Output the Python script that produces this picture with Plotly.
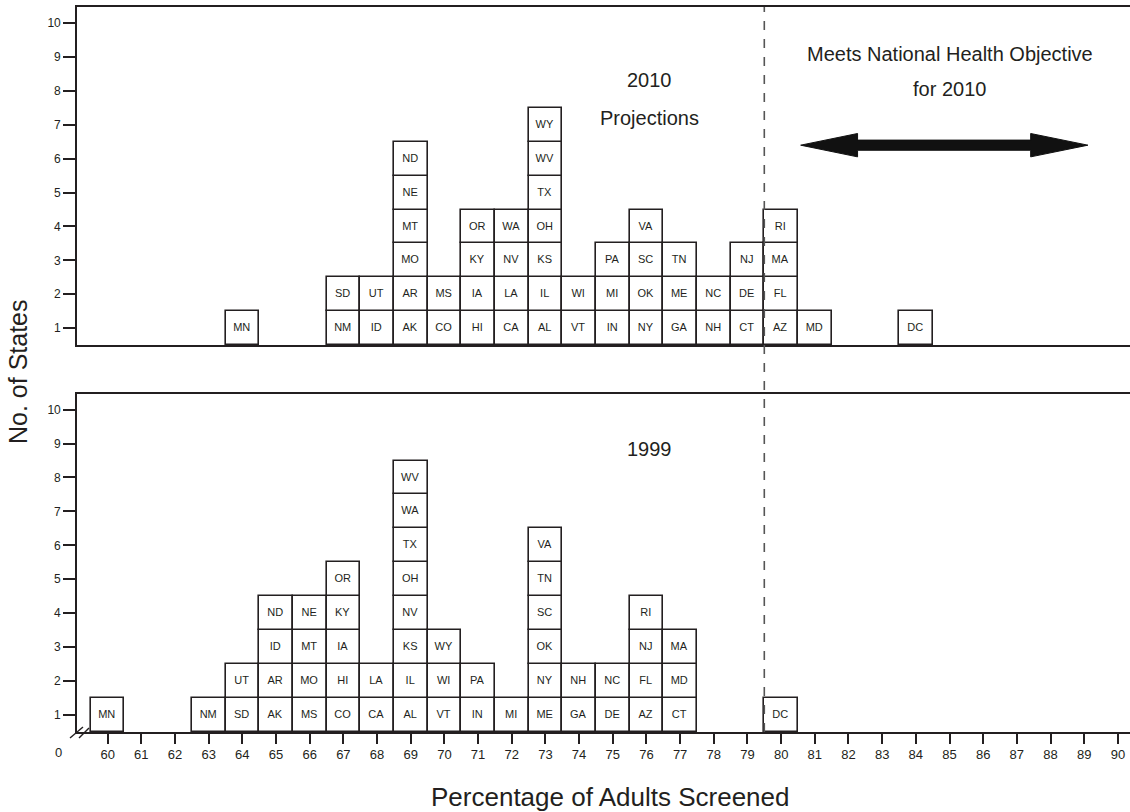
import plotly.graph_objects as go
from collections import defaultdict

# ---------------- data ----------------
states_2010 = ["MN",
               "NM", "SD",
               "ID", "UT",
               "AK", "AR", "MO", "MT", "NE", "ND",
               "CO", "MS",
               "HI", "IA", "KY", "OR",
               "CA", "LA", "NV", "WA",
               "AL", "IL", "KS", "OH", "TX", "WV", "WY",
               "VT", "WI",
               "IN", "MI", "PA",
               "NY", "OK", "SC", "VA",
               "GA", "ME", "TN",
               "NH", "NC",
               "CT", "DE", "NJ",
               "AZ", "FL", "MA", "RI",
               "MD",
               "DC"]
pct_2010 = [64,
            67, 67,
            68, 68,
            69, 69, 69, 69, 69, 69,
            70, 70,
            71, 71, 71, 71,
            72, 72, 72, 72,
            73, 73, 73, 73, 73, 73, 73,
            74, 74,
            75, 75, 75,
            76, 76, 76, 76,
            77, 77, 77,
            78, 78,
            79, 79, 79,
            80, 80, 80, 80,
            81,
            84]

states_1999 = ["MN",
               "NM",
               "SD", "UT",
               "AK", "AR", "ID", "ND",
               "MS", "MO", "MT", "NE",
               "CO", "HI", "IA", "KY", "OR",
               "CA", "LA",
               "AL", "IL", "KS", "NV", "OH", "TX", "WA", "WV",
               "VT", "WI", "WY",
               "IN", "PA",
               "MI",
               "ME", "NY", "OK", "SC", "TN", "VA",
               "GA", "NH",
               "DE", "NC",
               "AZ", "FL", "NJ", "RI",
               "CT", "MD", "MA",
               "DC"]
pct_1999 = [60,
            63,
            64, 64,
            65, 65, 65, 65,
            66, 66, 66, 66,
            67, 67, 67, 67, 67,
            68, 68,
            69, 69, 69, 69, 69, 69, 69, 69,
            70, 70, 70,
            71, 71,
            72,
            73, 73, 73, 73, 73, 73,
            74, 74,
            75, 75,
            76, 76, 76, 76,
            77, 77, 77,
            80]

x_ticks = list(range(60, 91))
y_ticks = list(range(1, 11))
objective = 79.5

# ---------------- style ----------------
FONT = "Liberation Sans, Arial, Helvetica, sans-serif"
INK = "#231f20"
XR = [59.09, 90.36]

W, H = 1130, 812
L, T, B = 77, 7, 80
PH = H - T - B
PW = W - L


def px_x(wx):
    return (wx - L) / PW


def px_y(wy):
    return (H - B - wy) / PH


def stacked(states, pct):
    counts = defaultdict(int)
    bases = []
    for p in pct:
        bases.append(counts[p] + 0.5)
        counts[p] += 1
    return go.Bar(
        x=pct, y=[1] * len(pct), base=bases, width=1,
        text=states, textposition="inside", insidetextanchor="middle",
        constraintext="none", textangle=0,
        textfont=dict(family=FONT, size=11, color=INK),
        marker=dict(color="white", line=dict(color=INK, width=1.6)),
        hoverinfo="text", showlegend=False,
    )


fig = go.Figure()
fig.add_trace(stacked(states_2010, pct_2010).update(xaxis="x", yaxis="y"))
fig.add_trace(stacked(states_1999, pct_1999).update(xaxis="x2", yaxis="y2"))

common_y = dict(
    tickvals=y_ticks, ticks="outside", ticklen=12, tickwidth=2, tickcolor=INK,
    showline=True, linecolor=INK, linewidth=1.6, showgrid=False, zeroline=False,
    tickfont=dict(family=FONT, size=12, color=INK),
)

fig.update_layout(
    width=W, height=H,
    margin=dict(l=L, r=0, t=T, b=B, pad=0),
    paper_bgcolor="white", plot_bgcolor="white",
    barmode="overlay", bargap=0,
    uniformtext=dict(minsize=11, mode="show"),
    xaxis=dict(domain=[0, 1], range=XR, anchor="y", showticklabels=False,
               ticks="", showline=True, mirror=True, linecolor=INK, linewidth=1.6,
               showgrid=False, zeroline=False),
    yaxis=dict(domain=[px_y(345), 1.0], range=[0.5, 10.48], anchor="x", **common_y),
    xaxis2=dict(domain=[0, 1], range=XR, anchor="y2", tickvals=x_ticks,
                ticktext=[str(v) for v in x_ticks], ticks="outside", ticklen=10,
                tickwidth=2, tickcolor=INK, showline=True, mirror=True,
                linecolor=INK, linewidth=1.6, showgrid=False, zeroline=False,
                tickfont=dict(family=FONT, size=13, color=INK)),
    yaxis2=dict(domain=[0.0, px_y(394)], range=[0.5, 10.46], anchor="x2", **common_y),
    font=dict(family=FONT, color=INK),
)

# objective line spanning both panels
fig.add_shape(type="line", xref="x", yref="paper", x0=objective, x1=objective,
              y0=0, y1=1, line=dict(color="#555555", width=1.6, dash="dash"))

# double-headed arrow in top panel (data coords)
ax0, ah0, ah1, ax1 = 80.58, 82.27, 87.41, 89.11
ay, hh, sh = 6.40, 0.345, 0.15
path = (f"M {ax0},{ay} L {ah0},{ay+hh} L {ah0},{ay+sh} L {ah1},{ay+sh} "
        f"L {ah1},{ay+hh} L {ax1},{ay} L {ah1},{ay-hh} L {ah1},{ay-sh} "
        f"L {ah0},{ay-sh} L {ah0},{ay-hh} Z")
fig.add_shape(type="path", xref="x", yref="y", path=path,
              fillcolor="#111111", line=dict(color="#111111", width=1))

# axis break marks (paper coords so they may sit outside the plot area)
for (x0, y0, x1, y1) in [(70, 738, 83, 727), (79, 738, 89, 728)]:
    fig.add_shape(type="line", xref="paper", yref="paper",
                  x0=px_x(x0), y0=px_y(y0), x1=px_x(x1), y1=px_y(y1),
                  line=dict(color=INK, width=1.4))

ann = dict(showarrow=False, xanchor="center", yanchor="middle",
           font=dict(family=FONT, size=20, color=INK))
fig.add_annotation(x=76.1, y=8.32, xref="x", yref="y", text="2010", **ann)
fig.add_annotation(x=76.1, y=7.19, xref="x", yref="y", text="Projections", **ann)
fig.add_annotation(x=85.0, y=9.08, xref="x", yref="y",
                   text="Meets National Health Objective", **ann)
fig.add_annotation(x=85.0, y=8.05, xref="x", yref="y", text="for 2010", **ann)
fig.add_annotation(x=76.1, y=8.85, xref="x2", yref="y2", text="1999", **ann)

# origin label
fig.add_annotation(x=px_x(58), y=px_y(752), xref="paper", yref="paper",
                   text="0", showarrow=False, xanchor="center", yanchor="middle",
                   font=dict(family=FONT, size=13, color=INK))

# axis titles
fig.add_annotation(x=px_x(18), y=px_y(372), xref="paper", yref="paper",
                   text="No. of States", textangle=-90, showarrow=False,
                   xanchor="center", yanchor="middle",
                   font=dict(family=FONT, size=25, color=INK))
fig.add_annotation(x=px_x(610), y=px_y(797), xref="paper", yref="paper",
                   text="Percentage of Adults Screened", showarrow=False,
                   xanchor="center", yanchor="middle",
                   font=dict(family=FONT, size=26, color=INK))

fig.write_html(
    "out.html",
    config={"displayModeBar": False},
    post_script="document.body.style.margin='0';"
                "document.body.style.overflow='hidden';"
                "document.documentElement.style.overflow='hidden';",
)
